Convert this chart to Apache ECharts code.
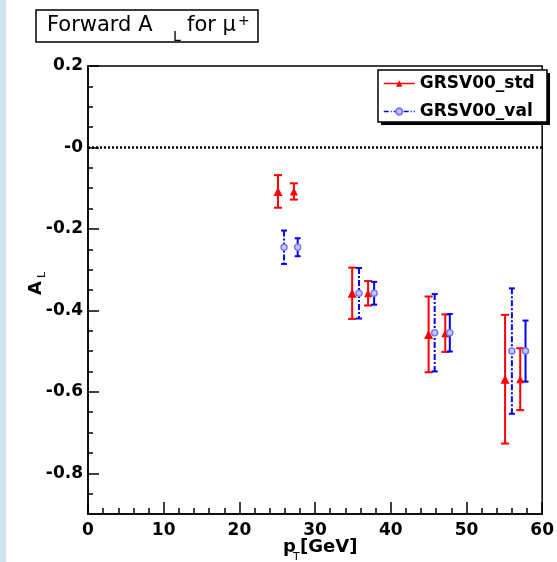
<!DOCTYPE html>
<html>
<head>
<meta charset="utf-8">
<script src="https://cdn.jsdelivr.net/npm/echarts@6/dist/echarts.min.js"></script>
<style>
  html, body { margin: 0; padding: 0; background: #fff; }
  #chart { width: 557px; height: 562px; }
</style>
</head>
<body>
<div id="chart"></div>
<script>
// GRSV00_std, wide errors (pT, A_L, error)
const stdWidePt = [25.1, 34.9, 45.0, 55.1];
const stdWideVal = [-0.108, -0.358, -0.459, -0.569];
const stdWideErr = [0.040, 0.063, 0.093, 0.158];
// GRSV00_std, narrow errors
const stdNarrowPt = [27.2, 37.0, 47.2, 57.1];
const stdNarrowVal = [-0.108, -0.358, -0.456, -0.569];
const stdNarrowErr = [0.020, 0.030, 0.046, 0.076];
// GRSV00_val, wide errors
const valWidePt = [25.9, 35.8, 45.8, 56.0];
const valWideVal = [-0.245, -0.358, -0.455, -0.500];
const valWideErr = [0.041, 0.062, 0.095, 0.154];
// GRSV00_val, narrow errors
const valNarrowPt = [27.7, 37.8, 47.8, 57.8];
const valNarrowVal = [-0.245, -0.358, -0.455, -0.500];
const valNarrowErr = [0.022, 0.028, 0.046, 0.075];

const xMajorTicks = [0, 10, 20, 30, 40, 50, 60];
const xMinorTicks = [2, 4, 6, 8, 12, 14, 16, 18, 22, 24, 26, 28, 32, 34, 36, 38,
  42, 44, 46, 48, 52, 54, 56, 58];
const yMajorTicks = [-0.8, -0.6, -0.4, -0.2, 0, 0.2];
const yMinorTicks = [-0.9, -0.85, -0.8, -0.75, -0.7, -0.65, -0.6, -0.55, -0.5, -0.45, -0.4, -0.35,
  -0.3, -0.25, -0.2, -0.15, -0.1, -0.05, 0, 0.05, 0.1, 0.15, 0.2];

const RED = '#ff0000';
const BLUE = '#0000ff';
const LABEL_FONT = 'DejaVu Sans';

function zip3(a, b, c) { return a.map((v, i) => [v, b[i], c[i]]); }
function zip2(a, b) { return a.map((v, i) => [v, b[i]]); }

function errorBars(points, color, dash, cap) {
  return {
    type: 'custom',
    silent: true,
    z: 2,
    data: points,
    renderItem(params, api) {
      const x = api.value(0), y = api.value(1), e = api.value(2);
      const top = api.coord([x, y + e]);
      const bot = api.coord([x, y - e]);
      return {
        type: 'group',
        children: [
          { type: 'line', shape: { x1: top[0], y1: top[1], x2: bot[0], y2: bot[1] },
            style: { stroke: color, lineWidth: 2, lineDash: dash } },
          { type: 'line', shape: { x1: top[0] - cap, y1: top[1], x2: top[0] + cap, y2: top[1] },
            style: { stroke: color, lineWidth: 2 } },
          { type: 'line', shape: { x1: bot[0] - cap, y1: bot[1], x2: bot[0] + cap, y2: bot[1] },
            style: { stroke: color, lineWidth: 2 } }
        ]
      };
    }
  };
}

function markers(name, pts, vals, symbol, size, itemStyle, lineColor) {
  return {
    name: name,
    type: 'line',
    data: zip2(pts, vals),
    symbol: symbol,
    symbolSize: size,
    showSymbol: true,
    itemStyle: itemStyle,
    lineStyle: { color: lineColor, opacity: 0 },
    silent: true,
    z: 3
  };
}

const tickLine = { color: '#000', width: 1.5 };

const chart = echarts.init(document.getElementById('chart'));

const option = {
  animation: false,
  backgroundColor: '#fff',
  grid: {
    left: 88, top: 66, right: 6, bottom: 48,
    show: true, borderColor: '#000', borderWidth: 1.5
  },
  legend: {
    left: 378, top: 70, z: 5,
    orient: 'vertical',
    padding: [5, 8, 4, 5],
    itemWidth: 31, itemHeight: 8, itemGap: 11,
    selectedMode: false,
    textStyle: { fontFamily: LABEL_FONT, fontWeight: 'bold', fontSize: 17, color: '#000' },
    data: [
      { name: 'GRSV00_std', lineStyle: { color: RED, opacity: 1, width: 1.5, type: 'solid' } },
      { name: 'GRSV00_val', lineStyle: { color: BLUE, opacity: 1, width: 1.5, type: [5, 2, 1, 2] } }
    ]
  },
  xAxis: [
    {
      type: 'value', min: 0, max: 60,
      axisLine: { show: true, onZero: false, lineStyle: tickLine },
      axisTick: { show: true, inside: true, length: 12, customValues: xMajorTicks, lineStyle: tickLine },
      splitLine: { show: false },
      axisLabel: {
        margin: 8, fontFamily: LABEL_FONT, fontWeight: 'bold', fontSize: 17, color: '#000',
        customValues: xMajorTicks
      }
    },
    {
      type: 'value', min: 0, max: 60, position: 'bottom',
      axisLine: { show: false, onZero: false },
      axisTick: { show: true, inside: true, length: 6, customValues: xMinorTicks, lineStyle: tickLine },
      axisLabel: { show: false },
      splitLine: { show: false }
    }
  ],
  yAxis: [
    {
      type: 'value', min: -0.9, max: 0.2,
      axisLine: { show: true, onZero: false, lineStyle: tickLine },
      axisTick: { show: true, inside: true, length: 11, customValues: yMajorTicks, lineStyle: tickLine },
      splitLine: { show: false },
      axisLabel: {
        margin: 5, fontFamily: LABEL_FONT, fontWeight: 'bold', fontSize: 17, color: '#000',
        customValues: yMajorTicks,
        formatter: v => (Math.abs(v) < 1e-9 ? '-0' : v.toFixed(1))
      }
    },
    {
      type: 'value', min: -0.9, max: 0.2, position: 'left',
      axisLine: { show: false, onZero: false },
      axisTick: { show: true, inside: true, length: 5, customValues: yMinorTicks, lineStyle: tickLine },
      axisLabel: { show: false },
      splitLine: { show: false }
    }
  ],
  graphic: [
    { type: 'rect', left: 0, top: 0, shape: { width: 6, height: 562 }, style: { fill: '#d3e4f1' } },
    // title box
    { type: 'rect', shape: { x: 36, y: 10, width: 222, height: 32 },
      style: { fill: '#fff', stroke: '#000', lineWidth: 1.5 } },
    { type: 'text', x: 47, y: 26, style: { text: 'Forward A', font: '21px "DejaVu Sans"',
      fill: '#000', verticalAlign: 'middle' } },
    { type: 'text', x: 173, y: 37, style: { text: 'L', font: '14px "DejaVu Sans"',
      fill: '#000', verticalAlign: 'middle' } },
    { type: 'text', x: 187, y: 26, style: { text: 'for μ', font: '21px "DejaVu Sans"',
      fill: '#000', verticalAlign: 'middle' } },
    { type: 'text', x: 238, y: 21, style: { text: '+', font: '14px "DejaVu Sans"',
      fill: '#000', verticalAlign: 'middle' } },
    // legend box with shadow
    { type: 'rect', z: 0, shape: { x: 381, y: 73, width: 169, height: 52 }, style: { fill: '#000' } },
    { type: 'rect', z: 0, shape: { x: 378, y: 70, width: 169, height: 52 },
      style: { fill: '#fff', stroke: '#000', lineWidth: 1.5 } },
    // y axis name
    { type: 'group', x: 36, y: 288, rotation: Math.PI / 2, children: [
      { type: 'text', x: 0, y: 0, style: { text: 'A', font: 'bold 18px "DejaVu Sans"',
        fill: '#000', align: 'center', verticalAlign: 'middle' } },
      { type: 'text', x: 10, y: 6, style: { text: 'L', font: '11px "DejaVu Sans"',
        fill: '#000', align: 'left', verticalAlign: 'middle' } }
    ] },
    // x axis name
    { type: 'text', x: 283, y: 547, style: { text: 'p', font: 'bold 18px "DejaVu Sans"',
      fill: '#000', verticalAlign: 'middle' } },
    { type: 'text', x: 293, y: 557, style: { text: 'T', font: '11px "DejaVu Sans"',
      fill: '#000', verticalAlign: 'middle' } },
    { type: 'text', x: 300, y: 547, style: { text: '[GeV]', font: 'bold 18px "DejaVu Sans"',
      fill: '#000', verticalAlign: 'middle' } }
  ],
  series: [
    {
      type: 'line', data: [], silent: true,
      markLine: {
        silent: true, symbol: 'none', label: { show: false },
        lineStyle: { color: '#000', type: [2, 2], width: 2.5 },
        data: [{ yAxis: 0 }]
      }
    },
    errorBars(zip3(stdWidePt, stdWideVal, stdWideErr), RED, null, 4),
    errorBars(zip3(stdNarrowPt, stdNarrowVal, stdNarrowErr), RED, null, 4),
    errorBars(zip3(valWidePt, valWideVal, valWideErr), BLUE, [6, 2, 2, 2], 3),
    errorBars(zip3(valNarrowPt, valNarrowVal, valNarrowErr), BLUE, null, 3),
    markers('GRSV00_std', stdWidePt, stdWideVal, 'triangle', 9, { color: RED }, RED),
    markers('GRSV00_std', stdNarrowPt, stdNarrowVal, 'triangle', 8, { color: RED }, RED),
    markers('GRSV00_val', valWidePt, valWideVal, 'circle', 6,
      { color: '#c8c8ff', borderColor: '#7878ff', borderWidth: 1.5 }, BLUE),
    markers('GRSV00_val', valNarrowPt, valNarrowVal, 'circle', 6,
      { color: '#c8c8ff', borderColor: '#7878ff', borderWidth: 1.5 }, BLUE)
  ]
};

chart.setOption(option);
</script>
</body>
</html>
